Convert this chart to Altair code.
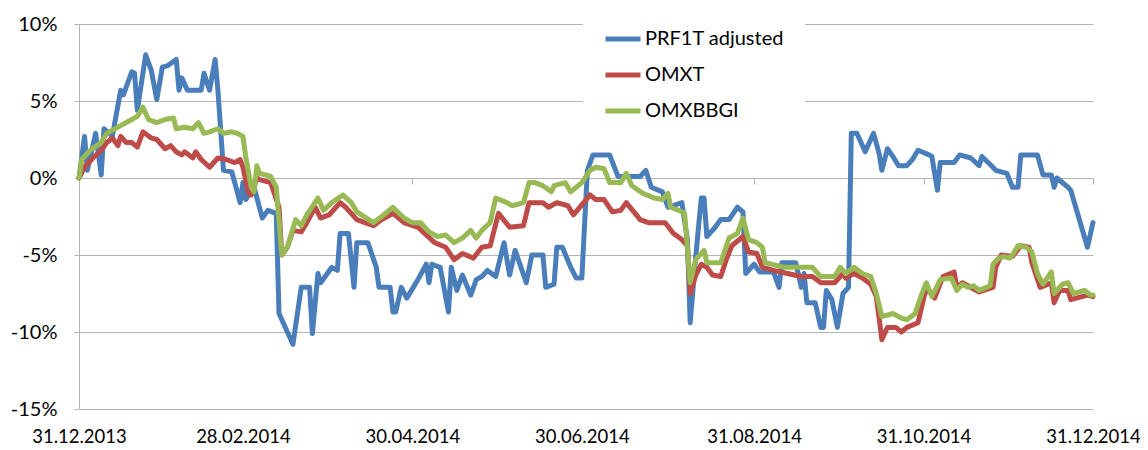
import altair as alt
import pandas as pd

start = pd.Timestamp("2013-12-31")
series_names = ["PRF1T adjusted", "OMXT", "OMXBBGI"]
series_colors = ["#4A7EBB", "#BE4B48", "#98B954"]
tick_dates = ["2013-12-31", "2014-02-28", "2014-04-30", "2014-06-30",
              "2014-08-31", "2014-10-31", "2014-12-31"]
y_ticks = [-15, -10, -5, 0, 5, 10]

# (days since 31.12.2013, return in %)
prf_points = [
    (0, 0.0), (2, 2.7), (3, 0.5), (6, 2.9), (8, 0.2), (9, 3.2), (12, 2.7), (15, 5.7),
    (16, 5.4), (17, 5.9), (19, 6.9), (20, 6.8), (21, 4.4), (24, 8.0), (26, 7.0), (28, 5.1),
    (30, 7.2), (32, 7.3), (35, 7.7), (36, 5.7), (37, 6.5), (39, 5.7), (44, 5.7), (45, 6.8),
    (47, 5.7), (49, 7.7), (50, 5.7), (52, 0.5), (55, 0.4), (58, -1.6), (59, -0.3), (60, -1.4),
    (63, -0.6), (66, -2.6), (68, -2.1), (71, -2.3), (72, -8.8), (77, -10.8), (80, -7.1),
    (83, -7.1), (84, -10.1), (86, -6.2), (87, -6.8), (91, -5.8), (93, -6.0), (94, -3.6),
    (97, -3.6), (99, -7.1), (100, -4.2), (104, -4.2), (107, -5.8), (108, -7.1), (112, -7.1),
    (113, -8.7), (114, -8.7), (116, -7.1), (118, -7.8), (122, -6.6), (125, -5.6), (126, -6.8),
    (127, -5.6), (130, -5.8), (133, -8.7), (134, -5.8), (136, -7.3), (138, -6.3), (141, -7.6),
    (143, -6.6), (145, -6.4), (147, -6.0), (150, -6.4), (153, -4.2), (155, -6.3), (157, -4.7),
    (161, -6.8), (163, -5.0), (167, -5.0), (168, -7.1), (171, -6.9), (172, -4.5), (174, -4.5),
    (177, -5.8), (179, -6.5), (181, -6.5), (183, 0.5), (185, 1.5), (191, 1.5), (194, 0.1),
    (202, 0.1), (204, 0.5), (206, -0.6), (210, -0.9), (212, -1.9), (217, -1.6), (219, -4.0),
    (220, -9.4), (222, -5.1), (224, -1.3), (225, -1.3), (226, -3.8), (229, -3.2), (231, -2.7),
    (234, -2.7), (237, -1.9), (239, -2.2), (240, -6.2), (243, -5.6), (245, -6.1), (250, -6.1),
    (252, -7.1), (253, -5.5), (258, -5.5), (260, -7.1), (261, -6.2), (262, -8.1), (265, -8.1),
    (267, -9.7), (268, -9.7), (269, -7.3), (271, -7.9), (273, -9.7), (275, -7.5), (277, -7.1),
    (278, 2.9), (280, 2.9), (283, 1.7), (286, 2.9), (288, 1.6), (289, 0.5), (291, 1.9),
    (293, 1.4), (295, 0.8), (298, 0.8), (300, 1.2), (302, 1.8), (306, 1.5), (307, 1.4),
    (309, -0.8), (310, 1.0), (315, 1.0), (317, 1.5), (321, 1.3), (324, 0.8), (325, 1.4),
    (329, 0.7), (330, 0.5), (334, 0.3), (336, -0.6), (338, -0.6), (339, 1.5), (345, 1.5),
    (347, 0.2), (350, 0.2), (351, -0.6), (352, 0.0), (356, -0.6), (357, -0.8), (363, -4.5),
    (365, -2.9),
]

omxt_points = [
    (0, 0.0), (2, 0.7), (5, 1.3), (8, 1.8), (10, 2.3), (12, 2.6), (14, 2.1), (15, 2.7),
    (17, 2.3), (19, 2.3), (21, 2.0), (23, 3.0), (26, 2.6), (28, 2.5), (31, 1.9), (33, 2.1),
    (35, 1.7), (37, 1.5), (38, 1.7), (41, 1.3), (42, 1.7), (44, 1.2), (47, 0.7), (50, 1.3),
    (53, 1.2), (56, 1.0), (58, 1.2), (59, 0.7), (61, -1.0), (62, -1.1), (64, 0.0), (65, -0.1),
    (69, -0.3), (72, -1.9), (73, -5.0), (75, -4.5), (77, -3.4), (80, -3.5), (82, -2.9),
    (85, -1.9), (87, -2.6), (90, -2.4), (94, -1.6), (96, -1.9), (100, -2.7), (106, -3.1),
    (109, -2.7), (113, -2.3), (117, -2.9), (122, -3.2), (125, -3.7), (128, -4.2), (132, -4.5),
    (135, -5.3), (138, -4.9), (142, -5.2), (145, -4.5), (148, -4.4), (151, -2.3), (155, -3.2),
    (160, -3.1), (162, -1.6), (167, -1.6), (169, -1.9), (172, -1.6), (176, -1.8), (178, -2.4),
    (184, -1.1), (186, -1.4), (189, -1.4), (192, -2.2), (195, -2.1), (197, -1.6), (202, -2.7),
    (205, -2.9), (211, -2.9), (214, -3.6), (217, -4.0), (219, -4.4), (220, -7.5), (222, -6.3),
    (224, -5.6), (226, -5.8), (228, -6.3), (231, -6.4), (233, -5.3), (235, -4.4), (239, -3.8),
    (241, -4.8), (244, -4.9), (246, -5.8), (250, -6.0), (255, -6.2), (260, -6.4), (264, -6.4),
    (267, -6.8), (272, -6.8), (275, -6.2), (276, -6.5), (279, -6.2), (282, -6.5), (285, -6.9),
    (287, -7.7), (289, -10.5), (291, -9.7), (294, -9.7), (296, -10.0), (298, -9.7), (302, -9.4),
    (305, -7.1), (308, -7.8), (311, -6.4), (315, -6.1), (316, -7.1), (318, -6.8), (324, -7.4),
    (329, -7.1), (330, -5.8), (332, -5.0), (336, -5.1), (339, -4.4), (342, -4.5), (343, -5.5),
    (346, -7.1), (350, -6.8), (351, -8.1), (353, -7.3), (356, -7.3), (357, -7.9), (363, -7.6),
    (365, -7.7),
]

omxbbgi_points = [
    (0, 0.0), (1, 1.2), (4, 1.8), (8, 2.3), (10, 2.9), (14, 3.3), (17, 3.6), (19, 3.8),
    (21, 4.0), (23, 4.6), (25, 3.8), (28, 3.6), (31, 3.8), (34, 3.9), (35, 3.2), (38, 3.3),
    (41, 3.2), (43, 3.6), (45, 2.9), (47, 3.0), (50, 3.2), (52, 2.9), (55, 3.0), (57, 2.9),
    (59, 2.7), (60, 1.4), (62, -0.6), (63, -0.9), (64, 0.8), (65, 0.3), (69, 0.1), (71, -0.6),
    (73, -5.0), (75, -4.5), (78, -2.7), (80, -3.1), (82, -2.4), (86, -1.3), (88, -2.1),
    (91, -1.6), (95, -1.1), (98, -1.6), (100, -2.2), (106, -2.9), (109, -2.5), (113, -1.9),
    (117, -2.6), (120, -2.9), (123, -2.9), (126, -3.5), (129, -3.8), (132, -3.7), (135, -4.2),
    (138, -3.9), (141, -3.4), (143, -3.9), (145, -3.4), (148, -2.9), (150, -1.3), (154, -1.6),
    (156, -1.8), (160, -1.6), (162, -0.3), (164, -0.3), (167, -0.5), (170, -0.9), (171, -0.5),
    (175, -0.3), (177, -0.9), (181, -0.3), (184, 0.5), (186, 0.7), (189, 0.6), (191, -0.3),
    (195, -0.3), (197, 0.3), (199, -0.5), (203, -1.0), (207, -1.3), (210, -1.4), (212, -1.0),
    (213, -1.9), (216, -2.1), (218, -2.3), (220, -6.8), (222, -5.3), (225, -4.7), (226, -5.5),
    (231, -5.5), (234, -3.9), (237, -3.6), (239, -2.6), (241, -4.0), (244, -4.2), (246, -4.5),
    (247, -5.5), (254, -5.8), (264, -5.8), (267, -6.4), (272, -6.4), (274, -5.8), (276, -6.2),
    (279, -5.8), (282, -6.2), (285, -6.4), (287, -7.5), (289, -9.0), (293, -8.8), (296, -9.1),
    (298, -9.2), (301, -8.8), (303, -7.7), (305, -6.8), (307, -7.7), (310, -6.6), (314, -6.5),
    (316, -7.3), (318, -6.9), (320, -7.1), (322, -7.0), (324, -7.3), (328, -7.0), (329, -5.6),
    (331, -5.2), (333, -5.1), (335, -5.2), (336, -5.0), (338, -4.4), (341, -4.5), (343, -4.8),
    (345, -6.2), (347, -6.9), (350, -6.1), (351, -7.5), (354, -6.9), (356, -6.8), (358, -7.5),
    (362, -7.3), (364, -7.6), (365, -7.6),
]


def frame(points, name):
    df = pd.DataFrame(points, columns=["day", "value"])
    df["date"] = (start + pd.to_timedelta(df["day"], unit="D")).dt.strftime("%Y-%m-%d")
    df["series"] = name
    return df


grid_color = "#B4B4B4"
font = "Lato"
PLOT_H = 385


def dt(s):
    t = pd.Timestamp(s)
    return alt.DateTime(year=t.year, month=t.month, date=t.day, utc=True)


tick_vals = [dt(s) for s in tick_dates]
x_scale = alt.Scale(type="utc", domain=[dt(tick_dates[0]), dt(tick_dates[-1])], nice=False)
y_scale = alt.Scale(domain=[-15, 10], nice=False)
color_scale = alt.Scale(domain=series_names, range=series_colors)
legend = alt.Legend(
    orient="none", legendX=504, legendY=-25, title=None,
    symbolType="stroke", symbolSize=1225, symbolStrokeWidth=5,
    labelFont=font, labelFontSize=20, labelColor="black", labelOffset=2,
    fillColor="white", padding=20, rowPadding=6, labelLimit=300,
)

label_axis = alt.Axis(
    orient="bottom", values=tick_vals,
    labelExpr="utcFormat(datum.value, '%d.%m.%Y')",
    grid=False, domain=False, ticks=False, labelFont=font, labelFontSize=18.5,
    labelColor="black", labelPadding=27, labelBaseline="middle",
    labelFlush=False, labelOverlap=False, title=None,
)
# tick marks hanging below the 0% line (0% sits at 10/25 of the height from the top)
tick_axis = alt.Axis(
    orient="bottom", values=tick_vals, labels=False, grid=False, domain=False,
    ticks=True, tickSize=6, tickColor=grid_color,
    offset=-round(PLOT_H * 15 / 25), title=None,
)
y_axis = alt.Axis(
    orient="left", values=y_ticks, labelExpr="datum.value + '%'", grid=True,
    gridColor=grid_color, domainColor=grid_color, tickColor=grid_color, tickSize=5,
    labelPadding=17, labelFont=font, labelFontSize=20, labelColor="black", title=None,
)


def line(points, name, xaxis, yaxis):
    return alt.Chart(frame(points, name)).mark_line(
        strokeWidth=5, strokeJoin="round", strokeCap="round"
    ).encode(
        x=alt.X("date:T", scale=x_scale, axis=xaxis),
        y=alt.Y("value:Q", scale=y_scale, axis=yaxis),
        color=alt.Color("series:N", scale=color_scale, legend=legend),
    )


chart = alt.layer(
    line(prf_points, series_names[0], label_axis, y_axis),
    line(omxt_points, series_names[1], tick_axis, None),
    line(omxbbgi_points, series_names[2], None, None),
).resolve_axis(x="independent", y="independent").properties(
    width=1014, height=PLOT_H,
    autosize=alt.AutoSizeParams(type="none"),
    padding={"left": 71, "top": 16, "right": 47, "bottom": 40},
).configure_view(stroke=None)

chart.save("out.html", embed_options={"renderer": "svg", "actions": False})
